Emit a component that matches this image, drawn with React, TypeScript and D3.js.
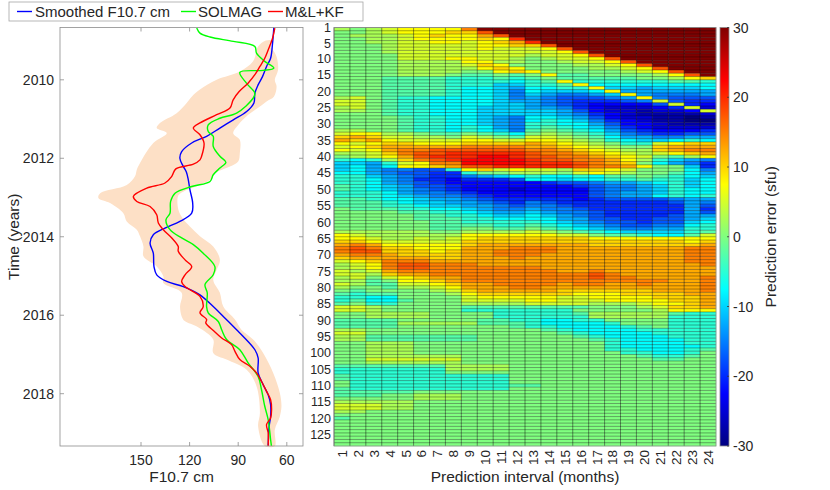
import * as d3 from "d3";

// ---- left panel: [time (years), F10.7 (sfu)] ----
const smoothedF107: [number, number][] = [
  [2008.67, 68], [2009.07, 68.8], [2009.45, 70], [2009.66, 72.5], [2009.92, 75],
  [2010.13, 77.7], [2010.34, 79.7], [2010.59, 80.3], [2010.81, 84.8], [2011.02, 93],
  [2011.23, 101.3], [2011.44, 109.5], [2011.61, 118.7], [2011.83, 124.9], [2012.0, 126],
  [2012.2, 124], [2012.35, 122], [2012.55, 120.8], [2012.8, 119.8], [2013.14, 118.1],
  [2013.4, 118.7], [2013.61, 126], [2013.78, 135.2], [2013.95, 142.4], [2014.16, 144.4],
  [2014.42, 142.4], [2014.76, 142], [2014.97, 140.3], [2015.14, 134.1], [2015.27, 123.9],
  [2015.48, 113.6], [2015.78, 105.4], [2016.03, 99.2], [2016.37, 91], [2016.54, 86.9],
  [2016.88, 79.7], [2017.09, 77.7], [2017.47, 77.7], [2017.77, 74.6], [2018.03, 71.5],
  [2018.28, 70], [2018.58, 70], [2018.83, 70.9], [2019.33, 71.5],
];

const solmag: [number, number][] = [
  [2008.68, 115.6], [2008.81, 113.6], [2008.91, 107.4], [2009.02, 93], [2009.15, 79.7],
  [2009.32, 78.7], [2009.53, 73.6], [2009.7, 68], [2009.76, 74.6], [2009.81, 89],
  [2010.09, 84.8], [2010.34, 79.7], [2010.47, 80.8], [2010.85, 91], [2010.98, 101.3],
  [2011.15, 108.5], [2011.32, 108.5], [2011.44, 105.4], [2011.7, 105.4], [2011.95, 101.3],
  [2012.1, 97.6], [2012.25, 101.3], [2012.42, 105.4], [2012.59, 107.4], [2012.72, 118.7],
  [2012.89, 129], [2013.1, 131.7], [2013.4, 132.1], [2013.57, 134.6], [2013.82, 132.1],
  [2014.03, 124.9], [2014.2, 117.7], [2014.42, 111.6], [2014.76, 104.4], [2014.97, 105.4],
  [2015.22, 110.5], [2015.43, 109.1], [2015.78, 109.5], [2015.94, 108.5], [2016.16, 102.3],
  [2016.37, 100.2], [2016.62, 97.2], [2016.88, 89], [2017.22, 83.8], [2017.56, 77.7],
  [2017.9, 75.6], [2018.32, 73.6], [2018.66, 71.5], [2019.17, 70], [2019.33, 69.5],
];

const mlkf: [number, number][] = [
  [2008.68, 67.4], [2008.94, 68.8], [2009.24, 71.5], [2009.45, 73.6], [2009.66, 76.6],
  [2009.87, 79.7], [2010.08, 83.8], [2010.3, 89.4], [2010.51, 93.1], [2010.72, 95.1],
  [2010.89, 103.3], [2011.1, 113.6], [2011.23, 117.7], [2011.4, 113.6], [2011.61, 111.1],
  [2011.95, 112.6], [2012.04, 113.6], [2012.15, 117.7], [2012.27, 128.5], [2012.46, 131],
  [2012.63, 135.2], [2012.76, 146.4], [2012.97, 154.7], [2013.1, 152.6], [2013.23, 144.4],
  [2013.44, 140.3], [2013.65, 139.3], [2013.82, 136.2], [2014.03, 131], [2014.25, 127],
  [2014.37, 127], [2014.59, 122.8], [2014.76, 118.7], [2014.97, 122.8], [2015.14, 124.9],
  [2015.27, 122.8], [2015.52, 113.6], [2015.78, 111.6], [2015.94, 113.6], [2016.11, 109.5],
  [2016.2, 110], [2016.4, 105], [2016.58, 100.2], [2016.75, 94.1], [2016.92, 92],
  [2017.13, 89], [2017.3, 82.8], [2017.47, 78.7], [2017.69, 75.6], [2017.94, 72.5],
  [2018.15, 70], [2018.41, 69.4], [2018.62, 70], [2018.79, 72.5], [2019.0, 71.5],
  [2019.33, 71.5],
];

const bandHigh: [number, number][] = [
  [2009.0, 73], [2009.15, 77.7], [2009.53, 80.8], [2009.79, 89], [2010.0, 103.3],
  [2010.25, 113.6], [2010.43, 118.7], [2010.59, 121.8], [2010.85, 128], [2011.1, 138.3],
  [2011.23, 140.3], [2011.36, 134.1], [2011.61, 142.4], [2012.12, 150.6], [2012.29, 152.6],
  [2012.46, 153.7], [2012.68, 158.8], [2012.89, 175.2], [2013.01, 176.3], [2013.14, 169.1],
  [2013.4, 160.9], [2013.61, 158.8], [2013.82, 152.6], [2013.99, 150.6], [2014.25, 148.5],
  [2014.5, 148.5], [2014.76, 140.3], [2015.01, 136.2], [2015.18, 136.2], [2015.43, 124.9],
  [2015.78, 125.9], [2016.03, 124.9], [2016.15, 123], [2016.3, 115], [2016.62, 105.4],
  [2016.96, 105.4], [2017.13, 97.2], [2017.39, 84.8], [2017.81, 78.7], [2018.49, 76.6],
  [2018.83, 77.7], [2019.33, 73.6],
];

const bandLow: [number, number][] = [
  [2009.0, 69], [2009.07, 70.5], [2009.41, 66.3], [2009.75, 65.4], [2010.0, 67.4],
  [2010.17, 66.3], [2010.43, 68], [2010.55, 72.5], [2010.68, 76.6], [2010.89, 83.8],
  [2011.15, 90], [2011.36, 93.1], [2011.53, 89], [2011.87, 89], [2012.08, 90],
  [2012.21, 95.1], [2012.38, 104.4], [2012.55, 107.4], [2012.72, 116], [2012.85, 124],
  [2012.95, 127], [2013.3, 127], [2013.55, 124], [2013.74, 119.8], [2013.99, 113.6],
  [2014.25, 105.4], [2014.59, 101.3], [2014.84, 103.3], [2015.1, 105.4], [2015.43, 101.3],
  [2015.78, 99.2], [2016.11, 92], [2016.37, 88], [2016.62, 80.8], [2016.96, 74.6],
  [2017.47, 68.4], [2017.98, 64.3], [2018.32, 63.3], [2018.58, 64.3], [2018.92, 67.4],
  [2019.33, 67.4],
];

const fTicks = [150, 120, 90, 60];
const timeTicks = [2010, 2012, 2014, 2016, 2018];

// ---- right panel ----
const intervals = [1, 2, 3, 4, 5, 6, 7, 8, 9, 10, 11, 12, 13, 14, 15, 16, 17, 18, 19, 20, 21, 22, 23, 24];
const rowTicks = [1, 5, 10, 15, 20, 25, 30, 35, 40, 45, 50, 55, 60, 65, 70, 75, 80, 85, 90, 95, 100, 105, 110, 115, 120, 125];
const cbTicks = [-30, -20, -10, 0, 10, 20, 30];

// one string per start month, one letter per prediction interval; letter i -> -30 + 2.5*i sfu
const errorLevels = "abcdefghijklmnopqrstuvwxy";
const errorRows = [
  "nmno pppp syyy yyyy yyyy yyyy",
  "mmno pppq qtyy yyyy yyyy yyyy",
  "mnnn opqp prty yyyy yyyy yyyy",
  "mmnn oppp pqpu yyyy yyyy yyyy",
  "mmnn oopp opqr uyyy yyyy yyyy",
  "mmmn oooo oppq qtyy yyyy yyyy",
  "mmmn oooo opoo opty yyyy yyyy",
  "mmmn oooo oooo oopt yyyy yyyy",
  "mmmm oooo oooo noop tyyy yyyy",
  "mmmm ooop poon mnoo ptyy yyyy",
  "mmmm nnnn ppnn mmno opty yyyy",
  "mmmm nnnn oqpm mmmn nopt yyyy",
  "mmmm nnnn npqp mmmm nnop tyyy",
  "mmmm nnnn mmpq pmmm mmno ptyy",
  "mmmm nnnm llml mpll mmmm npty",
  "mmml lllk kklk lmll lllm mnpq",
  "mmml lllk kkkj klpk kkkk kllk",
  "mmml lllk kkii kklp jjjj jjjj",
  "mmml lllk jjih jjkk piih iiij",
  "mmml lllk jjig jiii jphh hhhh",
  "mmml lllk jjig ihgg hiph gggh",
  "noml kkjj jjig hgff fghp gfff",
  "ooml kkjj jjih hgfe eefg ofee",
  "ooml kkjj jjii hgfe dddd foed",
  "noml kkjj jiii hhge dccc deoc",
  "nnml kkjj jiii iihf dccb ccdo",
  "mmml kkjj jiii iihg edcb bbbc",
  "mmmm lkkj jihg jjih fdcc bbab",
  "mmmm lkkj jihg jkji gedc bbaa",
  "mmmm lkkj jihg kkjj hfdd cbbb",
  "mmmm lkkj kjhg klkj iged cccc",
  "nnmm lkkj kjig lmlk jhfe ddde",
  "oppn nmll mlkj mnml kigf eeff",
  "qrqo onnm onml oonm ljhh gghh",
  "rqrp oooo ppoo ppon mkji ijkj",
  "popq qppp qqqq rqpo nmkk opqq",
  "opqr rrrr ssss rrqp onmm qrrr",
  "popr sstt tttt ssrq ponn qrss",
  "nnoq sttu uuuu tssr qpon opqr",
  "mnop rtuu uvvu ttss rqpo mlnp",
  "kjkn qstu vvvv utts srpn kihg",
  "iihk opss vvvv uuut srqm jhge",
  "ijhj ppqr ttuu uuut ssrp mmie",
  "ijhg gffk pqop oonq qpom mmjg",
  "jjhg ffee kmmn nnmo ponm mljh",
  "kkih gfee ghij kjjk jllm lkji",
  "kkjh geed eeef jjij jkkl kkij",
  "kkjh gfed dddd deff ghhi jkij",
  "lkji hffe dddd ddde fggh ikij",
  "lkji hgfe dddc dddd fggh ikjj",
  "kkkj hggf eddd dddd fghh ikjj",
  "kkkj ihgg fedd dddd fghh jkjk",
  "llkj jihh gfee eeed efff fghh",
  "lllk jiih hgfe gfee eeee efhg",
  "lllk kjii hhgf ggfe eeee eehf",
  "mlll kkjj ihgg hggf eeee eehe",
  "mmmm llkk jihh ihgg feee eehf",
  "mmmm mllk kjii jihg feee efhh",
  "mmmm mlll kkjj jjhh ffee ffhi",
  "mmmm mmll kkkk kjih gffe ffij",
  "mmmm mmll llkk lkji hgff ggjk",
  "mmmm mmll mmll mlkj ihgg hhkk",
  "nnnn nnmm nnnn onml kjii iikl",
  "ponn nnnn pppp ppoo mllk jjlo",
  "ppon nono pqqq qqqq pppp pppp",
  "qqpo oooo qqqq qqqq qqqq qqpq",
  "rsrp pppp qrrr rrrr qqqq qqqr",
  "stsq qppp rrrs ssrr rrrr rrss",
  "sttq qqpq rrss ssrr rrrr rrss",
  "rssr qqqq rrss srrr rrrr rrss",
  "qrrr rrqq rrrs rrrr rrrr rrss",
  "opqs ssrr rrrr rrrr rrrr rrss",
  "nops ttss srrr rrrr rrrr rrrs",
  "nops ttss ssss srrr rrrr rrrr",
  "onor ssss ssss ssrr srrr rrrr",
  "oonq rrss ssss ssss tsrr rrrr",
  "nomo pqrr ssss ssss tssr rrrs",
  "nnlm ppqr ssss ssss ssss srrs",
  "onll oopq rrss ssrs srrs rrrs",
  "nmml nnop rrrs srrr rrrr rrrs",
  "mlmm mmno qrrr rrqq qqqq rrrs",
  "lkll mmmn pqqq qqqp ppqq qqrr",
  "kkjj mmmm oppp ppoo pppp qqqr",
  "kljj lmmm oooo ppoo oppp pqqr",
  "lmkk mmmm nnnn oooo nnno ppqr",
  "oonm mmmm llll llll mmmn oqqr",
  "oonm mmmm kkkk kkkm mmmm nppp",
  "mmnn nnmm mmkk kkkl nnnn nlkk",
  "mmnn nnmm mmkk kkkk nnnn nkkk",
  "llll mmmm mllk kjjk kmmm mkkk",
  "llll nnnn nlll kjjj jkmm mkkk",
  "llll mmmm mmml kkjj jjkl mkkk",
  "nnmm mmmm mmmm mlkj jjjk kkkk",
  "oomm mmmm mmmm mmlk jjjj kkkk",
  "nnll llll lmmm mmml kjjj jkkk",
  "nnll llll lmmm mmmm lkjj jjkk",
  "mmnn nmmm mmmm mmmm mkjj jjkk",
  "mmnn nmmm mmmm mmmm mkjj jjjk",
  "mmnn nmmm mmmm mmmm mkkj jjkl",
  "mmnn nmmm mmmm mmmm mmkk jjkm",
  "mmnn nnnn mmmm mmmm mmml kklm",
  "mmoo oooo mmmm mmmm mmmm llmm",
  "mmnn nnnn mmmm mmmm mmmm mmmm",
  "llll llln nnnm mmmm mmmm mmmm",
  "kkkk kkkn nnnm mmmm mmmm mmmm",
  "kkkk kkkm mmmm mmmm mmmm mmmm",
  "lkkk kkkk kkkm mmmm mmmm mmmm",
  "lkkk kkkk kkkm mmmm mmmm mmmm",
  "mkkk kkkk kkkm mmmm mmmm mmmm",
  "mkkk kkkk kkkl lmmm mmmm mmmm",
  "lkkk kkkk kkkm mmmm mmmm mmmm",
  "llll lmmm mmmm mmmm mmmm mmmm",
  "lllm mnnn mmmm mmmm mmmm mmmm",
  "mmmm mnnn mmmm mmmm mmmm mmmm",
  "nnnn nmmm mmmm mmmm mmmm mmmm",
  "ooon nmmm mmmm mmmm mmmm mmmm",
  "ooon nmmm mmmm mmmm mmmm mmmm",
  "nnmm mmmm mmmm mmmm mmmm mmmm",
  "mmmm mmmm mmmm mmmm mmmm mmmm",
  "lmmm mmmm mmmm mmmm mmmm mmmm",
  "mmmm mmmm mmmm mmmm mmmm mmmm",
  "mmmm mmmm mmmm mmmm mmmm mmmm",
  "mmmm mmmm mmmm mmmm mmmm mmmm",
  "mmmm mmmm mmmm mmmm mmmm mmmm",
  "mmmm mmmm mmmm mmmm mmmm mmmm",
  "mmmm mmmm mmmm mmmm mmmm mmmm",
  "mmmm mmmm mmmm mmmm mmmm mmmm",
  "mmmm mmmm mmmm mmmm mmmm mmmm",
];

const startMonths = errorRows.map((_, i) => i + 1);
const errorGrid = errorRows.map((r) =>
  r.replace(/ /g, "").split("").map((ch) => -30 + 2.5 * errorLevels.indexOf(ch))
);

// MATLAB-like jet colormap
function jet(t: number) {
  const c = (x: number) => Math.max(0, Math.min(1, x));
  const r = c(1.5 - Math.abs(4 * t - 3));
  const g = c(1.5 - Math.abs(4 * t - 2));
  const b = c(1.5 - Math.abs(4 * t - 1));
  return d3.rgb(r * 255, g * 255, b * 255).formatHex();
}

const FONT = "'Liberation Sans', Arial, Helvetica, sans-serif";
const TEXT = "#262626";
const AXIS = "#8c8c8c";

export default function App() {
  const top = 27.5;
  const bottom = 446;

  const fScale = d3.scaleLinear().domain([200, 50]).range([60, 303]);
  const tScale = d3.scaleLinear().domain([2008.667, 2019.333]).range([top, bottom]);

  const colX = d3.scaleBand<number>().domain(intervals).range([334, 716]);
  const rowY = d3.scaleBand<number>().domain(startMonths).range([top, bottom]);
  const errColor = d3.scaleSequential(jet).domain([-30, 30]);
  const cbY = d3.scaleLinear().domain([-30, 30]).range([bottom, top]);

  const line = d3
    .line<[number, number]>()
    .x((d) => fScale(d[1]))
    .y((d) => tScale(d[0]))
    .curve(d3.curveCatmullRom.alpha(0.5));

  const bandPath = d3
    .line<[number, number]>()
    .x((d) => fScale(d[1]))
    .y((d) => tScale(d[0]))
    .curve(d3.curveCatmullRomClosed.alpha(0.5))([...bandHigh, ...[...bandLow].reverse()]);

  const jetStops = [0, 0.125, 0.375, 0.625, 0.875, 1];
  const hx0 = 334;
  const hx1 = 716;

  // the first two row labels sit only 4 rows apart; nudge them apart a little
  const rowLabelShift = (r: number) => (r === 1 ? -1.5 : r === 5 ? 0.8 : 0);

  return (
    <svg
      width={830}
      height={490}
      style={{ position: "absolute", left: 0, top: 0, background: "#fff" }}
      fontFamily={FONT}
    >
      <defs>
        <linearGradient id="jetGrad" x1="0" y1="1" x2="0" y2="0">
          {jetStops.map((s) => (
            <stop key={s} offset={s} stopColor={jet(s)} />
          ))}
        </linearGradient>
      </defs>

      {/* ---------- left panel ---------- */}
      <path d={bandPath ?? ""} fill="#fde0c6" stroke="none" />
      <path d={line(smoothedF107) ?? ""} fill="none" stroke="#0000ff" strokeWidth={1.4} />
      <path d={line(solmag) ?? ""} fill="none" stroke="#00ff00" strokeWidth={1.4} />
      <path d={line(mlkf) ?? ""} fill="none" stroke="#ff0000" strokeWidth={1.4} />

      <rect x={60} y={top} width={243} height={bottom - top} fill="none" stroke={AXIS} strokeWidth={0.8} />
      {fTicks.map((v) => (
        <g key={v}>
          <line x1={fScale(v)} x2={fScale(v)} y1={bottom} y2={bottom - 4} stroke={AXIS} strokeWidth={0.8} />
          <line x1={fScale(v)} x2={fScale(v)} y1={top} y2={top + 4} stroke={AXIS} strokeWidth={0.8} />
          <text x={fScale(v)} y={465} textAnchor="middle" fontSize={14} fill={TEXT}>
            {v}
          </text>
        </g>
      ))}
      {timeTicks.map((t) => (
        <g key={t}>
          <line x1={60} x2={64} y1={tScale(t)} y2={tScale(t)} stroke={AXIS} strokeWidth={0.8} />
          <line x1={303} x2={299} y1={tScale(t)} y2={tScale(t)} stroke={AXIS} strokeWidth={0.8} />
          <text x={54} y={tScale(t)} dy="0.36em" textAnchor="end" fontSize={14} fill={TEXT}>
            {t}
          </text>
        </g>
      ))}
      <text x={181.5} y={482} textAnchor="middle" fontSize={15.5} fill={TEXT}>
        F10.7 cm
      </text>
      <text
        transform={`translate(19, ${(top + bottom) / 2}) rotate(-90)`}
        textAnchor="middle"
        fontSize={15.5}
        fill={TEXT}
      >
        Time (years)
      </text>

      {/* legend */}
      <rect x={9} y={2} width={354} height={19} fill="#fff" stroke="#a6a6a6" strokeWidth={0.8} />
      <line x1={17} x2={32} y1={11.5} y2={11.5} stroke="#0000ff" strokeWidth={1.4} />
      <text x={35} y={17} fontSize={15} fill={TEXT}>
        Smoothed F10.7 cm
      </text>
      <line x1={181} x2={196} y1={11.5} y2={11.5} stroke="#00ff00" strokeWidth={1.4} />
      <text x={198} y={17} fontSize={15} fill={TEXT}>
        SOLMAG
      </text>
      <line x1={268} x2={283} y1={11.5} y2={11.5} stroke="#ff0000" strokeWidth={1.4} />
      <text x={285} y={17} fontSize={15} fill={TEXT}>
        M&amp;L+KF
      </text>

      {/* ---------- right panel: heatmap ---------- */}
      {errorGrid.map((row, i) =>
        row.map((v, j) => (
          <rect
            key={`${i}-${j}`}
            x={colX(intervals[j])}
            y={rowY(startMonths[i])}
            width={colX.bandwidth() + 0.2}
            height={rowY.bandwidth() + 0.2}
            fill={errColor(v)}
          />
        ))
      )}
      {startMonths.map((m) => (
        <line
          key={`h${m}`}
          x1={hx0}
          x2={hx1}
          y1={rowY(m)}
          y2={rowY(m)}
          stroke="#000"
          strokeOpacity={0.5}
          strokeWidth={0.7}
        />
      ))}
      {intervals.map((c) => (
        <line
          key={`v${c}`}
          x1={colX(c)}
          x2={colX(c)}
          y1={top}
          y2={bottom}
          stroke="#000"
          strokeOpacity={0.55}
          strokeWidth={0.8}
        />
      ))}
      <rect x={hx0} y={top} width={hx1 - hx0} height={bottom - top} fill="none" stroke={AXIS} strokeWidth={0.8} />

      {rowTicks.map((r) => (
        <text
          key={`r${r}`}
          x={331}
          y={(rowY(r) ?? 0) + rowY.bandwidth() / 2 + rowLabelShift(r)}
          dy="0.36em"
          textAnchor="end"
          fontSize={12.5}
          fill={TEXT}
        >
          {r}
        </text>
      ))}
      {intervals.map((c) => (
        <text
          key={`c${c}`}
          transform={`translate(${(colX(c) ?? 0) + colX.bandwidth() / 2}, 450) rotate(-90)`}
          dy="0.36em"
          textAnchor="end"
          fontSize={13.5}
          fill={TEXT}
        >
          {c}
        </text>
      ))}
      <text x={(hx0 + hx1) / 2} y={482} textAnchor="middle" fontSize={15.5} fill={TEXT}>
        Prediction interval (months)
      </text>

      {/* colorbar */}
      <rect x={720} y={top} width={9} height={bottom - top} fill="url(#jetGrad)" stroke={AXIS} strokeWidth={0.8} />
      {cbTicks.map((v) => (
        <g key={`cb${v}`}>
          <line x1={729} x2={727} y1={cbY(v)} y2={cbY(v)} stroke="#333" strokeWidth={0.8} />
          <text x={733} y={cbY(v)} dy="0.36em" fontSize={14} fill={TEXT}>
            {v}
          </text>
        </g>
      ))}
      <text
        transform={`translate(776, ${(top + bottom) / 2}) rotate(-90)`}
        textAnchor="middle"
        fontSize={15.5}
        fill={TEXT}
      >
        Prediction error (sfu)
      </text>
    </svg>
  );
}
